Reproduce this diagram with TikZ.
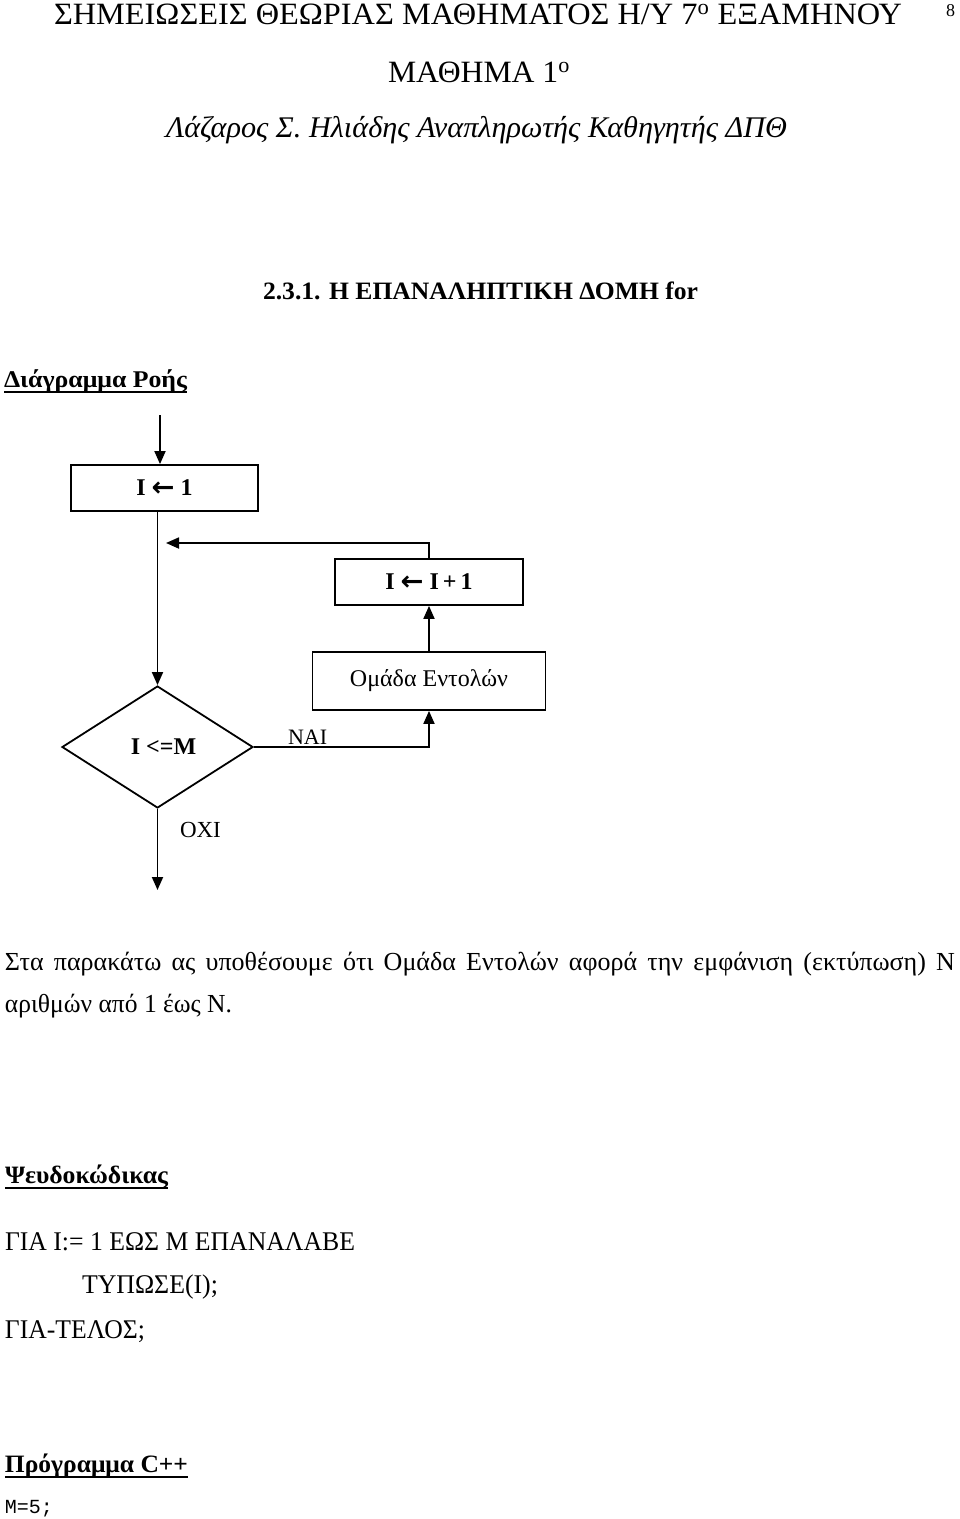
\documentclass[tikz,border=0pt]{standalone}
\usepackage{fontspec}
\setmainfont{Liberation Serif}
\setmonofont{Liberation Mono}
\newfontfamily\arrfont{DejaVu Sans}
\usepackage{graphicx}
\usetikzlibrary{arrows.meta,shapes.geometric}
\newcommand{\fitw}[2]{\resizebox{#1}{\height}{#2}}
\newcommand{\fsz}[1]{\fontsize{#1}{#1}\selectfont}
\newcommand{\larr}{\raisebox{-1pt}{\resizebox{23pt}{\height}{\arrfont\bfseries\fontsize{27}{27}\selectfont ←}}}
\begin{document}
\begin{tikzpicture}[x=1pt,y=-1pt,
  txt/.style={anchor=base west, inner sep=0pt, outer sep=0pt},
  box/.style={draw, line width=1.8pt, inner sep=0pt, font=\fsz{24}\bfseries},
  conn/.style={line width=1.8pt},
  arr/.style={conn, -{Triangle[length=13pt,width=11pt]}},
  ul/.style={line width=1.8pt}]
\useasboundingbox (0,0) rectangle (960,1519);
% header
\node[txt] (h1) at (54,24) {\fitw{848pt}{\fsz{31}ΣΗΜΕΙΩΣΕΙΣ ΘΕΩΡΙΑΣ ΜΑΘΗΜΑΤΟΣ Η/Υ 7\textsuperscript{ο} ΕΞΑΜΗΝΟΥ}};
\node[txt] (pg) at (946,16) {\fsz{18}8};
\node[txt] (h2) at (388,82) {\fitw{182pt}{\fsz{31}ΜΑΘΗΜΑ 1\textsuperscript{ο}}};
\node[txt] (h3) at (166,137) {\fitw{621pt}{\fsz{30}\itshape Λάζαρος Σ. Ηλιάδης Αναπληρωτής Καθηγητής ΔΠΘ}};
% section title
\node[txt] (sec) at (263,299) {\fitw{435pt}{\fsz{25}\bfseries 2.3.1. Η ΕΠΑΝΑΛΗΠΤΙΚΗ ΔΟΜΗ for}};
\node[txt] (dr) at (4,387) {\fitw{183pt}{\fsz{24}\bfseries Διάγραμμα Ροής}};
\draw[ul] ([yshift=-5pt]dr.base west) -- ([yshift=-5pt]dr.base east);
% flowchart
\coordinate (start) at (160,415);
\node[box, minimum width=187pt, minimum height=46pt] (b1) at (164.5,488) {I \larr{} 1};
\node[box, minimum width=188pt, minimum height=46pt] (b2) at (429,582) {I \larr{} I\,+\,1};
\node[box, minimum width=233pt, minimum height=58pt, font=\fsz{24}] (b3) at (429,681) {Ομάδα Εντολών};
\node[draw, diamond, line width=1.8pt, inner sep=0pt, minimum width=191pt, minimum height=122pt, aspect=1.57, font=\fsz{24}\bfseries] (d) at (157.5,747) {\hspace{12pt}I <=M};
\coordinate (join) at (166,543);
\coordinate (stop) at (157.5,890);
\draw[arr] (start) -- (start |- b1.north);
\draw[arr] (d.north |- b1.south) -- (d.north);
\draw[arr] (b2.north) |- (join);
\draw[arr] (b3.north) -- (b2.south);
\draw[arr] (d.east) -| (b3.south);
\draw[arr] (d.south) -- (stop);
\node[txt, font=\fsz{22}] (nai) at (288,744) {ΝΑΙ};
\node[txt, font=\fsz{23}] (oxi) at (180,837) {ΟΧΙ};
% paragraph
\node[txt] (p1) at (5,970) {\fsz{26}\makebox[950pt][s]{Στα παρακάτω ας υποθέσουμε ότι Ομάδα Εντολών αφορά την εμφάνιση (εκτύπωση) Ν}};
\node[txt] (p2) at (5,1012) {\fitw{227pt}{\fsz{26}αριθμών από 1 έως Ν.}};
% pseudocode
\node[txt] (ps) at (5,1183) {\fitw{163pt}{\fsz{25}\bfseries Ψευδοκώδικας}};
\draw[ul] ([yshift=-5pt]ps.base west) -- ([yshift=-5pt]ps.base east);
\node[txt] (c1) at (5,1250) {\fitw{350pt}{\fsz{27}ΓΙΑ I:= 1 ΕΩΣ Μ ΕΠΑΝΑΛΑΒΕ}};
\node[txt] (c2) at (82,1293) {\fitw{136pt}{\fsz{27}ΤΥΠΩΣΕ(I);}};
\node[txt] (c3) at (5,1338) {\fitw{140pt}{\fsz{27}ΓΙΑ-ΤΕΛΟΣ;}};
% program
\node[txt] (pr) at (5,1472) {\fitw{183pt}{\fsz{25}\bfseries Πρόγραμμα C++}};
\draw[ul] ([yshift=-5pt]pr.base west) -- ([yshift=-5pt]pr.base east);
\node[txt] (m5) at (5,1513) {\fsz{20}\ttfamily M=5;};
\end{tikzpicture}
\end{document}
